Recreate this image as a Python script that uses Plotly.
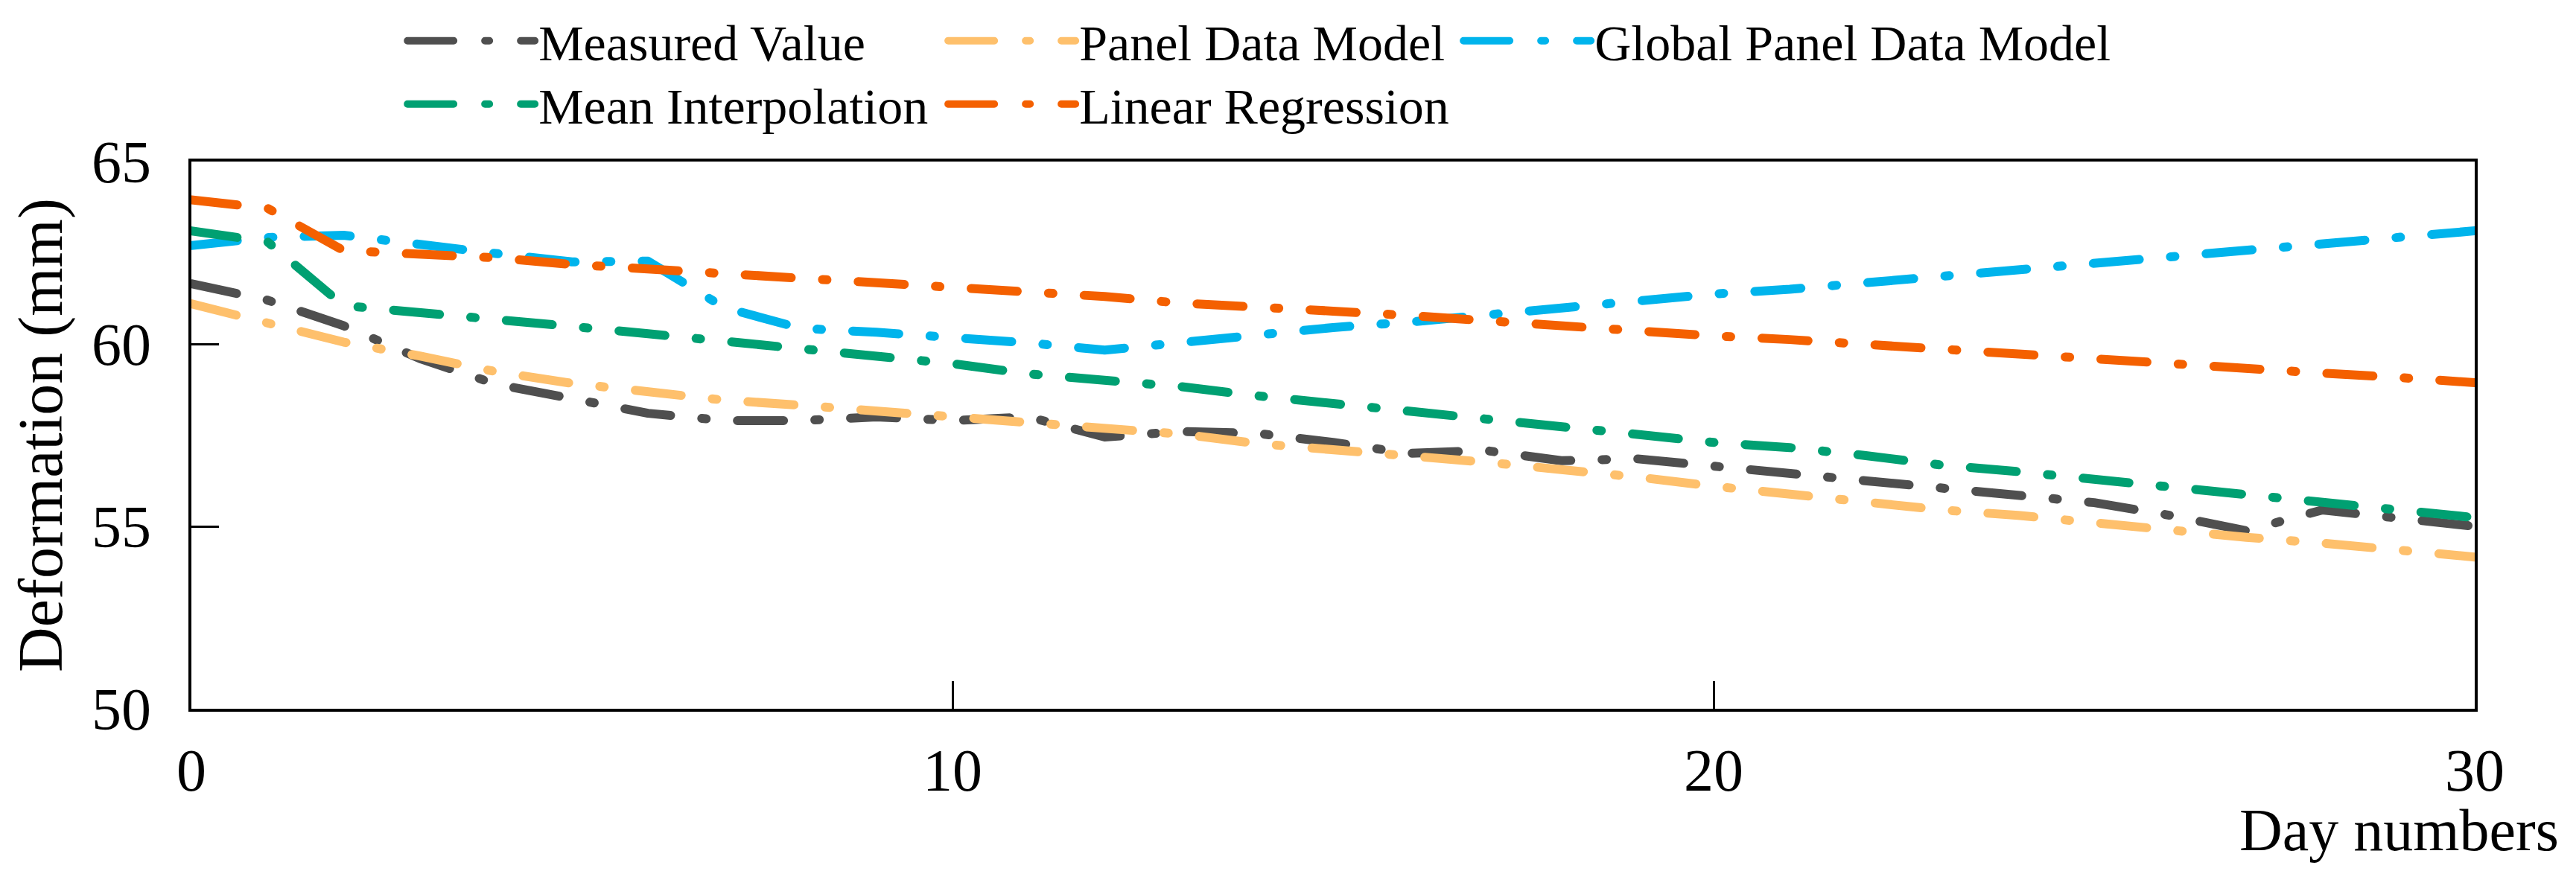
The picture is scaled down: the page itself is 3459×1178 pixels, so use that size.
import plotly.graph_objects as go

# ---------------- data ----------------
days = list(range(31))

measured_value = [61.65, 61.2, 60.5, 59.6, 58.9, 58.5, 58.1, 57.9, 57.9, 58.0,
                  57.9, 58.0, 57.45, 57.6, 57.55, 57.3, 57.0, 57.08, 56.8, 56.85,
                  56.65, 56.45, 56.25, 56.0, 55.8, 55.65, 55.3, 54.88, 55.45, 55.2,
                  55.0]

panel_data_model = [61.1, 60.57, 60.05, 59.67, 59.24, 58.92, 58.68, 58.46, 58.32, 58.17,
                    57.98, 57.88, 57.73, 57.53, 57.27, 57.13, 56.93, 56.76, 56.57, 56.35,
                    56.1, 55.87, 55.64, 55.45, 55.3, 55.1, 54.86, 54.7, 54.54, 54.33,
                    54.16]

global_panel_data_model = [62.7, 62.92, 62.98, 62.7, 62.48, 62.25, 62.27, 61.0, 60.43, 60.32,
                           60.2, 60.03, 59.83, 60.05, 60.25, 60.45, 60.6, 60.8, 60.98, 61.2,
                           61.37, 61.5, 61.68, 61.86, 62.05, 62.22, 62.42, 62.6, 62.78, 62.95,
                           63.1]

mean_interpolation = [63.1, 62.8, 61.05, 60.88, 60.68, 60.48, 60.28, 60.08, 59.85, 59.66,
                      59.46, 59.18, 59.0, 58.83, 58.58, 58.38, 58.16, 57.94, 57.72, 57.52,
                      57.3, 57.16, 56.94, 56.68, 56.5, 56.3, 56.06, 55.86, 55.67, 55.46,
                      55.24]

linear_regression = [63.95, 63.72, 62.56, 62.46, 62.36, 62.18, 62.06, 61.93, 61.8, 61.7,
                     61.58, 61.41, 61.3, 61.12, 60.98, 60.9, 60.78, 60.63, 60.5, 60.38,
                     60.22, 60.12, 59.98, 59.84, 59.7, 59.57, 59.45, 59.33, 59.2, 59.08,
                     58.94]

series_names = ["Measured Value", "Panel Data Model", "Global Panel Data Model",
                "Mean Interpolation", "Linear Regression"]
series_values = [measured_value, panel_data_model, global_panel_data_model,
                 mean_interpolation, linear_regression]
series_colors = ["#4F4F4F", "#FEC06C", "#00B4EC", "#00A072", "#F46000"]
series_legend = ["legend", "legend", "legend", "legend2", "legend2"]
series_legendwidth = [540, 506, None, 540, None]

x_ticks = [0, 10, 20, 30]
y_ticks = [50, 55, 60, 65]

FONT = "Liberation Serif, Times New Roman, serif"
DASH = "62px,42px,6px,42px"

fig = go.Figure()
for name, vals, col, lg, lw in zip(series_names, series_values, series_colors,
                                   series_legend, series_legendwidth):
    kw = dict(legendwidth=lw) if lw else {}
    fig.add_trace(go.Scatter(
        x=days, y=vals, name=name, mode="lines",
        line=dict(color=col, width=12, dash=DASH),
        legend=lg, **kw))

axis_common = dict(
    showline=True, linecolor="black", linewidth=4, mirror=True,
    ticks="inside", ticklen=37, tickwidth=3, tickcolor="black",
    showgrid=False, zeroline=False,
    tickfont=dict(family=FONT, size=80, color="black"),
)

fig.update_layout(
    width=3459, height=1178,
    margin=dict(l=249, r=144, t=209, b=234, autoexpand=False),
    paper_bgcolor="white", plot_bgcolor="white",
    font=dict(family=FONT, color="black"),
    xaxis=dict(range=[0, 30], tickvals=x_ticks, ticklabelstandoff=10, **axis_common),
    yaxis=dict(range=[50, 65], tickvals=y_ticks, ticklabelstandoff=34,
               title=dict(text="Deformation (mm)", font=dict(family=FONT, size=84),
                          standoff=40),
               **axis_common),
    legend=dict(orientation="h", x=0.093, xanchor="left", y=1.2204, yanchor="middle",
                font=dict(family=FONT, size=68, color="black"), itemwidth=171,
                bgcolor="rgba(0,0,0,0)", borderwidth=0),
    legend2=dict(orientation="h", x=0.093, xanchor="left", y=1.1047, yanchor="middle",
                 font=dict(family=FONT, size=68, color="black"), itemwidth=171,
                 bgcolor="rgba(0,0,0,0)", borderwidth=0),
    annotations=[dict(text="Day numbers", xref="paper", yref="paper",
                      x=1.0375, y=-0.2218, xanchor="right", yanchor="middle",
                      showarrow=False, font=dict(family=FONT, size=80, color="black"))],
    showlegend=True,
)

post = ("var s=document.createElement('style');"
        "s.textContent='.js-line{stroke-linecap:round !important;stroke-linejoin:round !important;}';"
        "document.head.appendChild(s);")
fig.write_html("out.html", post_script=post)
